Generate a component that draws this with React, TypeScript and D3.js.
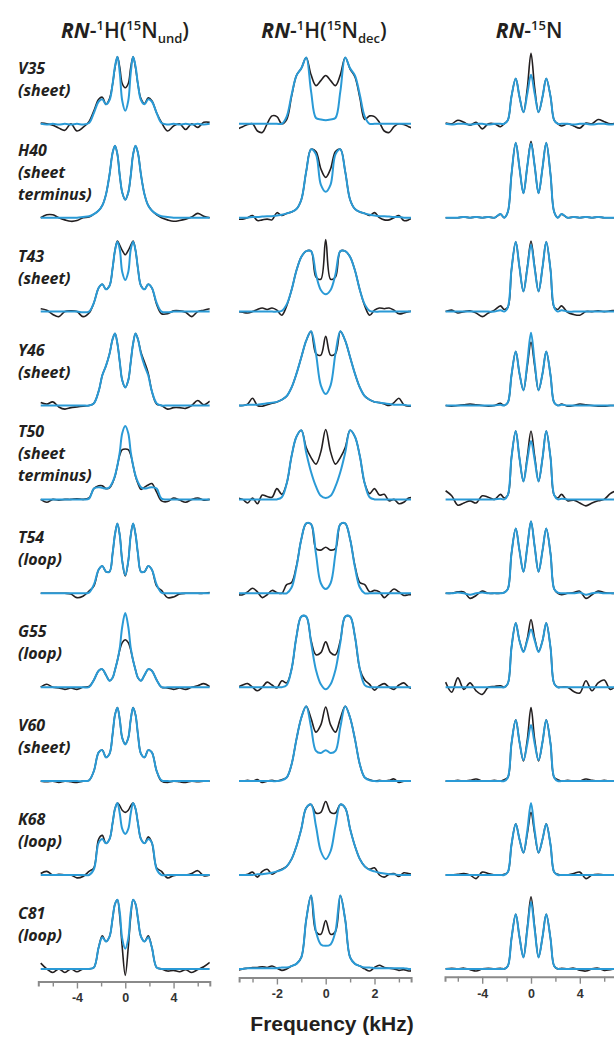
import React, { useEffect, useRef } from 'react'
import * as d3 from 'd3'

// residues and their secondary-structure note (one entry per text line)
const residues = ['V35', 'H40', 'T43', 'Y46', 'T50', 'T54', 'G55', 'V60', 'K68', 'C81']
const regionLines = [
  ['(sheet)'],
  ['(sheet', 'terminus)'],
  ['(sheet)'],
  ['(sheet)'],
  ['(sheet', 'terminus)'],
  ['(loop)'],
  ['(loop)'],
  ['(sheet)'],
  ['(loop)'],
  ['(loop)'],
]

// frequency samples (kHz) for each experiment
const freqUnd = [-7, -6.5, -6, -5.5, -5, -4.5, -4, -3.5, -3, -2.6, -2.2, -1.9, -1.6, -1.3, -1.05, -0.85, -0.65, -0.45, -0.25, 0,
  0.25, 0.45, 0.65, 0.85, 1.05, 1.3, 1.6, 1.9, 2.2, 2.6, 3, 3.5, 4, 4.5, 5, 5.5, 6, 6.5, 7]
const freqDec = [-3.6, -3.4, -3.2, -3.0, -2.8, -2.6, -2.4, -2.2, -2.0, -1.8, -1.6, -1.4, -1.2, -1.0, -0.8, -0.6, -0.4, -0.2, 0,
  0.2, 0.4, 0.6, 0.8, 1.0, 1.2, 1.4, 1.6, 1.8, 2.0, 2.2, 2.4, 2.6, 2.8, 3.0, 3.2, 3.4, 3.6]
const freqN = [-7, -6.5, -6, -5.5, -5, -4.5, -4, -3.5, -3, -2.5, -2.2, -1.9, -1.6, -1.25, -0.95, -0.62, -0.3, 0,
  0.3, 0.62, 0.95, 1.25, 1.6, 1.9, 2.2, 2.5, 3, 3.5, 4, 4.5, 5, 5.5, 6, 6.5, 7]

// RN-1H(15N undecoupled): experiment (black) and simulation (blue)
const undExp = [
  [0.01, 0.0, -0.02, -0.06, -0.09, 0.0, -0.1, -0.05, 0.03, 0.18, 0.34, 0.37, 0.27, 0.35, 0.55, 0.78, 0.93, 0.78, 0.56, 0.5, 0.56, 0.78, 0.93, 0.78, 0.55, 0.35, 0.28, 0.36, 0.32, 0.15, 0.02, -0.1, -0.03, 0.0, -0.08, 0.0, -0.05, 0.02, 0.02],
  [0.0, 0.04, 0.04, 0.0, -0.03, -0.05, -0.04, 0.0, 0.01, 0.05, 0.1, 0.17, 0.32, 0.6, 0.9, 1.0, 0.88, 0.58, 0.35, 0.25, 0.35, 0.58, 0.88, 1.0, 0.9, 0.6, 0.32, 0.17, 0.1, 0.04, 0.0, -0.03, -0.05, -0.04, -0.02, 0.01, 0.06, 0.02, 0.0],
  [0.04, 0.02, -0.04, -0.07, 0.0, 0.01, 0.0, -0.07, -0.02, 0.12, 0.33, 0.38, 0.31, 0.36, 0.6, 0.85, 0.98, 0.92, 0.85, 0.79, 0.85, 0.92, 0.98, 0.85, 0.6, 0.36, 0.31, 0.38, 0.33, 0.1, -0.03, -0.03, 0.01, 0.01, -0.01, -0.07, 0.0, 0.02, 0.04],
  [0.04, 0.02, 0.05, -0.02, -0.05, -0.03, -0.02, -0.01, 0.0, 0.03, 0.2, 0.42, 0.55, 0.72, 0.92, 1.0, 0.86, 0.6, 0.35, 0.25, 0.35, 0.6, 0.86, 1.0, 0.92, 0.74, 0.6, 0.45, 0.2, 0.02, 0.0, -0.05, -0.03, -0.03, -0.04, 0.0, 0.07, 0.01, 0.06],
  [0.0, -0.04, 0.0, -0.01, 0.0, 0.0, 0.01, 0.0, 0.02, 0.15, 0.19, 0.19, 0.15, 0.16, 0.23, 0.32, 0.47, 0.62, 0.69, 0.7, 0.69, 0.62, 0.47, 0.32, 0.22, 0.14, 0.17, 0.2, 0.22, 0.1, -0.02, -0.03, 0.02, -0.01, -0.04, 0.0, 0.02, -0.01, 0.0],
  [0.0, 0.0, 0.0, 0.0, 0.0, -0.01, -0.06, -0.04, 0.03, 0.1, 0.33, 0.38, 0.3, 0.3, 0.55, 0.82, 0.97, 0.8, 0.45, 0.24, 0.45, 0.8, 0.97, 0.82, 0.55, 0.3, 0.3, 0.38, 0.33, 0.1, 0.04, -0.06, -0.05, -0.01, 0.0, 0.0, 0.0, 0.0, 0.01],
  [0.0, 0.04, 0.0, -0.01, -0.03, -0.01, -0.03, 0.0, 0.01, 0.1, 0.23, 0.25, 0.17, 0.09, 0.13, 0.24, 0.37, 0.52, 0.62, 0.66, 0.62, 0.52, 0.37, 0.24, 0.13, 0.09, 0.17, 0.25, 0.23, 0.1, 0.0, -0.01, -0.03, -0.01, -0.03, 0.0, 0.02, 0.05, 0.01],
  [0.0, -0.01, 0.0, -0.02, 0.0, -0.01, -0.02, 0.0, 0.01, 0.14, 0.4, 0.43, 0.33, 0.38, 0.65, 0.92, 1.02, 0.85, 0.6, 0.52, 0.6, 0.85, 1.02, 0.92, 0.65, 0.38, 0.33, 0.43, 0.4, 0.14, 0.0, -0.02, 0.0, -0.01, -0.02, 0.0, -0.01, 0.0, 0.0],
  [0.02, 0.05, 0.0, 0.01, 0.0, 0.0, -0.04, -0.02, 0.05, 0.1, 0.5, 0.55, 0.44, 0.5, 0.72, 0.92, 1.0, 0.96, 0.9, 0.87, 0.9, 0.96, 1.0, 0.92, 0.72, 0.5, 0.44, 0.53, 0.45, 0.1, 0.05, -0.04, -0.01, 0.0, 0.0, 0.02, 0.06, -0.01, 0.0],
  [0.08, 0.0, -0.05, 0.0, -0.05, 0.0, -0.04, 0.0, 0.0, 0.02, 0.3, 0.46, 0.38, 0.45, 0.7, 0.9, 0.96, 0.72, 0.3, -0.09, 0.3, 0.72, 0.96, 0.9, 0.7, 0.45, 0.38, 0.46, 0.3, 0.02, 0.0, -0.03, -0.02, -0.04, -0.01, -0.05, -0.01, 0.03, 0.09],
]
const undSim = [
  [0.0, -0.01, 0.0, -0.01, 0.0, -0.01, 0.0, -0.01, 0.01, 0.15, 0.31, 0.34, 0.27, 0.33, 0.55, 0.8, 0.93, 0.7, 0.32, 0.18, 0.32, 0.7, 0.93, 0.8, 0.55, 0.33, 0.27, 0.34, 0.31, 0.15, 0.01, -0.01, 0.0, -0.01, 0.0, -0.01, 0.0, -0.01, 0.0],
  [0.0, 0.0, 0.0, 0.0, 0.0, 0.0, 0.0, 0.01, 0.02, 0.05, 0.1, 0.17, 0.32, 0.6, 0.9, 1.0, 0.88, 0.58, 0.35, 0.25, 0.35, 0.58, 0.88, 1.0, 0.9, 0.6, 0.32, 0.17, 0.1, 0.05, 0.02, 0.01, 0.0, 0.0, 0.0, 0.0, 0.0, 0.0, 0.0],
  [0.0, 0.0, 0.0, 0.0, 0.0, 0.0, 0.0, -0.01, 0.0, 0.12, 0.33, 0.38, 0.31, 0.36, 0.6, 0.85, 0.97, 0.86, 0.55, 0.44, 0.55, 0.86, 0.97, 0.85, 0.6, 0.36, 0.31, 0.38, 0.33, 0.12, 0.0, -0.01, 0.0, 0.0, 0.0, 0.0, 0.0, 0.0, 0.0],
  [0.0, 0.0, 0.0, 0.0, 0.0, 0.0, 0.0, 0.0, 0.0, 0.03, 0.2, 0.42, 0.55, 0.72, 0.92, 1.0, 0.86, 0.6, 0.35, 0.25, 0.35, 0.6, 0.86, 1.0, 0.92, 0.72, 0.55, 0.42, 0.2, 0.03, 0.0, 0.0, 0.0, 0.0, 0.0, 0.0, 0.0, 0.0, 0.0],
  [0.0, 0.0, 0.0, 0.0, 0.0, 0.0, 0.0, 0.0, 0.01, 0.15, 0.17, 0.16, 0.15, 0.17, 0.24, 0.33, 0.47, 0.66, 0.92, 1.02, 0.92, 0.66, 0.47, 0.33, 0.24, 0.17, 0.15, 0.16, 0.17, 0.15, 0.01, 0.0, 0.0, 0.0, 0.0, 0.0, 0.0, 0.0, 0.0],
  [0.0, 0.0, 0.0, 0.0, 0.0, 0.0, 0.0, 0.0, 0.01, 0.12, 0.33, 0.38, 0.3, 0.3, 0.55, 0.82, 0.97, 0.8, 0.45, 0.25, 0.45, 0.8, 0.97, 0.82, 0.55, 0.3, 0.3, 0.38, 0.33, 0.12, 0.01, 0.0, 0.0, 0.0, 0.0, 0.0, 0.0, 0.0, 0.0],
  [0.0, 0.0, 0.0, 0.0, 0.0, 0.0, 0.0, 0.0, 0.0, 0.1, 0.23, 0.25, 0.17, 0.09, 0.13, 0.24, 0.37, 0.55, 0.84, 1.03, 0.84, 0.55, 0.37, 0.24, 0.13, 0.09, 0.17, 0.25, 0.23, 0.1, 0.0, 0.0, 0.0, 0.0, 0.0, 0.0, 0.0, 0.0, 0.0],
  [0.0, 0.0, 0.0, 0.0, 0.0, 0.0, 0.0, 0.0, 0.01, 0.14, 0.4, 0.43, 0.33, 0.38, 0.65, 0.92, 1.02, 0.85, 0.6, 0.51, 0.6, 0.85, 1.02, 0.92, 0.65, 0.38, 0.33, 0.43, 0.4, 0.14, 0.01, 0.0, 0.0, 0.0, 0.0, 0.0, 0.0, 0.0, 0.0],
  [0.0, 0.0, 0.0, 0.0, 0.0, 0.0, 0.0, 0.0, 0.0, 0.08, 0.45, 0.5, 0.44, 0.5, 0.72, 0.92, 1.0, 0.85, 0.64, 0.57, 0.64, 0.85, 1.0, 0.92, 0.72, 0.5, 0.44, 0.5, 0.45, 0.08, 0.0, 0.0, 0.0, 0.0, 0.0, 0.0, 0.0, 0.0, 0.0],
  [0.0, 0.0, 0.0, 0.0, 0.0, 0.0, 0.0, 0.0, 0.0, 0.02, 0.3, 0.44, 0.38, 0.45, 0.7, 0.9, 0.96, 0.78, 0.42, 0.28, 0.42, 0.78, 0.96, 0.9, 0.7, 0.45, 0.38, 0.44, 0.3, 0.02, 0.0, 0.0, 0.0, 0.0, 0.0, 0.0, 0.0, 0.0, 0.0],
]

// RN-1H(15N decoupled)
const decExp = [
  [-0.07, -0.04, -0.01, 0.0, -0.1, -0.12, 0.0, 0.11, 0.1, 0.0, 0.06, 0.38, 0.67, 0.77, 0.92, 0.68, 0.53, 0.6, 0.67, 0.6, 0.53, 0.68, 0.92, 0.76, 0.65, 0.36, 0.06, 0.11, 0.1, 0.02, -0.1, -0.12, -0.04, 0.0, -0.01, -0.04, -0.07],
  [-0.02, -0.02, 0.0, 0.03, -0.04, -0.03, -0.02, -0.03, 0.07, 0.03, 0.06, 0.08, 0.12, 0.25, 0.64, 0.95, 0.92, 0.68, 0.56, 0.68, 0.92, 0.95, 0.64, 0.25, 0.12, 0.08, 0.06, 0.03, 0.07, 0.0, -0.03, -0.03, 0.0, 0.03, -0.04, -0.03, 0.01],
  [0.0, -0.01, -0.02, 0.0, 0.03, 0.05, 0.03, 0.05, 0.02, -0.05, 0.08, 0.3, 0.57, 0.76, 0.84, 0.84, 0.48, 0.45, 1.0, 0.45, 0.48, 0.84, 0.84, 0.76, 0.57, 0.3, 0.08, -0.05, 0.02, 0.05, 0.04, 0.05, 0.02, -0.03, -0.02, 0.0, 0.01],
  [0.0, 0.0, 0.02, 0.1, 0.0, -0.01, 0.01, 0.03, 0.05, 0.08, 0.13, 0.25, 0.44, 0.67, 0.9, 1.03, 0.72, 0.7, 0.96, 0.7, 0.72, 1.03, 0.9, 0.67, 0.44, 0.25, 0.13, 0.08, 0.05, 0.04, 0.02, 0.0, 0.04, 0.1, 0.01, -0.01, 0.0],
  [0.02, 0.0, -0.05, 0.02, -0.06, 0.06, 0.04, 0.03, 0.15, 0.07, 0.22, 0.6, 0.87, 0.96, 0.72, 0.58, 0.49, 0.66, 0.97, 0.66, 0.49, 0.58, 0.72, 0.96, 0.87, 0.6, 0.22, 0.08, 0.15, 0.06, 0.07, -0.02, 0.0, -0.06, -0.04, 0.02, 0.02],
  [-0.02, -0.02, 0.02, 0.07, 0.02, -0.06, -0.02, 0.04, 0.01, 0.0, 0.12, 0.15, 0.38, 0.75, 0.97, 0.96, 0.62, 0.6, 0.64, 0.6, 0.62, 0.96, 0.97, 0.75, 0.38, 0.15, 0.12, 0.02, 0.04, 0.02, -0.06, 0.0, 0.06, 0.02, -0.03, -0.02, -0.02],
  [0.0, 0.03, 0.05, 0.0, -0.05, 0.0, 0.07, 0.03, -0.01, 0.09, 0.06, 0.25, 0.7, 0.98, 0.98, 0.65, 0.45, 0.48, 0.63, 0.48, 0.45, 0.65, 0.98, 0.98, 0.7, 0.25, 0.1, 0.04, -0.04, 0.02, 0.05, 0.0, -0.03, 0.03, 0.06, 0.0, -0.02],
  [0.0, 0.0, 0.01, 0.0, 0.02, -0.02, 0.0, 0.01, 0.0, 0.02, 0.05, 0.23, 0.58, 0.88, 1.04, 0.87, 0.68, 0.78, 1.03, 0.78, 0.68, 0.87, 1.04, 0.88, 0.58, 0.23, 0.05, 0.02, 0.0, 0.01, 0.0, 0.01, 0.03, -0.02, 0.0, 0.0, 0.0],
  [0.0, 0.0, 0.01, 0.04, -0.03, 0.05, 0.08, 0.01, 0.05, 0.08, 0.12, 0.22, 0.4, 0.64, 0.93, 0.98, 0.86, 0.87, 1.02, 0.87, 0.86, 0.98, 0.93, 0.64, 0.4, 0.22, 0.12, 0.08, 0.1, 0.0, -0.03, 0.01, 0.02, -0.02, 0.03, 0.02, 0.0],
  [-0.02, 0.0, 0.01, 0.02, 0.02, 0.03, 0.02, 0.04, 0.01, -0.02, 0.0, 0.04, 0.07, 0.16, 0.68, 1.02, 0.52, 0.48, 0.67, 0.48, 0.52, 1.02, 0.68, 0.16, 0.07, 0.04, 0.0, -0.03, 0.02, 0.05, 0.02, 0.01, 0.0, -0.02, -0.01, -0.03, -0.02],
]
const decSim = [
  [0.0, 0.0, 0.0, 0.0, 0.0, 0.0, 0.0, 0.0, 0.0, 0.0, 0.1, 0.4, 0.67, 0.77, 0.92, 0.45, 0.08, 0.06, 0.05, 0.06, 0.08, 0.45, 0.92, 0.77, 0.67, 0.4, 0.1, 0.0, 0.0, 0.0, 0.0, 0.0, 0.0, 0.0, 0.0, 0.0, 0.0],
  [0.0, 0.0, 0.0, 0.01, 0.01, 0.015, 0.02, 0.02, 0.03, 0.04, 0.06, 0.08, 0.12, 0.25, 0.64, 0.95, 0.88, 0.46, 0.36, 0.46, 0.88, 0.95, 0.64, 0.25, 0.12, 0.08, 0.06, 0.04, 0.03, 0.02, 0.02, 0.015, 0.01, 0.01, 0.0, 0.0, 0.0],
  [0.0, 0.0, 0.0, 0.0, 0.0, 0.0, 0.0, 0.0, 0.0, 0.01, 0.1, 0.3, 0.57, 0.76, 0.84, 0.84, 0.52, 0.3, 0.24, 0.3, 0.52, 0.84, 0.84, 0.76, 0.57, 0.3, 0.1, 0.01, 0.0, 0.0, 0.0, 0.0, 0.0, 0.0, 0.0, 0.0, 0.0],
  [0.0, 0.0, 0.01, 0.01, 0.01, 0.02, 0.03, 0.04, 0.05, 0.08, 0.13, 0.25, 0.44, 0.67, 0.9, 1.03, 0.72, 0.28, 0.16, 0.28, 0.72, 1.03, 0.9, 0.67, 0.44, 0.25, 0.13, 0.08, 0.05, 0.04, 0.03, 0.02, 0.01, 0.01, 0.01, 0.0, 0.0],
  [0.0, 0.0, 0.0, 0.0, 0.0, 0.0, 0.0, 0.0, 0.0, 0.03, 0.22, 0.6, 0.87, 0.96, 0.65, 0.38, 0.18, 0.05, 0.02, 0.05, 0.18, 0.38, 0.65, 0.96, 0.87, 0.6, 0.22, 0.03, 0.0, 0.0, 0.0, 0.0, 0.0, 0.0, 0.0, 0.0, 0.0],
  [0.0, 0.0, 0.0, 0.0, 0.0, 0.0, 0.0, 0.0, 0.0, 0.0, 0.0, 0.08, 0.36, 0.75, 0.97, 0.96, 0.55, 0.14, 0.06, 0.14, 0.55, 0.96, 0.97, 0.75, 0.36, 0.08, 0.0, 0.0, 0.0, 0.0, 0.0, 0.0, 0.0, 0.0, 0.0, 0.0, 0.0],
  [0.0, 0.0, 0.0, 0.0, 0.0, 0.0, 0.0, 0.0, 0.0, 0.0, 0.03, 0.25, 0.7, 0.98, 0.98, 0.62, 0.24, 0.04, -0.03, 0.04, 0.24, 0.62, 0.98, 0.98, 0.7, 0.25, 0.03, 0.0, 0.0, 0.0, 0.0, 0.0, 0.0, 0.0, 0.0, 0.0, 0.0],
  [0.0, 0.0, 0.0, 0.0, 0.0, 0.0, 0.0, 0.0, 0.0, 0.01, 0.05, 0.23, 0.58, 0.88, 1.04, 0.75, 0.42, 0.39, 0.43, 0.39, 0.42, 0.75, 1.04, 0.88, 0.58, 0.23, 0.05, 0.01, 0.0, 0.0, 0.0, 0.0, 0.0, 0.0, 0.0, 0.0, 0.0],
  [0.0, 0.0, 0.0, 0.0, 0.01, 0.01, 0.02, 0.03, 0.05, 0.07, 0.12, 0.22, 0.4, 0.64, 0.93, 0.98, 0.68, 0.33, 0.22, 0.33, 0.68, 0.98, 0.93, 0.64, 0.4, 0.22, 0.12, 0.07, 0.05, 0.03, 0.02, 0.01, 0.01, 0.0, 0.0, 0.0, 0.0],
  [0.0, 0.0, 0.01, 0.01, 0.01, 0.01, 0.01, 0.01, 0.01, 0.02, 0.02, 0.04, 0.07, 0.16, 0.68, 1.02, 0.52, 0.34, 0.32, 0.34, 0.52, 1.02, 0.68, 0.16, 0.07, 0.04, 0.02, 0.02, 0.01, 0.01, 0.01, 0.01, 0.01, 0.01, 0.01, 0.0, 0.0],
]

// RN-15N
const nExp = [
  [0.01, 0.0, 0.05, 0.02, -0.02, 0.02, -0.07, 0.0, 0.0, -0.04, 0.0, 0.05, 0.38, 0.63, 0.38, 0.16, 0.5, 0.98, 0.5, 0.16, 0.38, 0.63, 0.38, 0.05, 0.0, -0.03, 0.0, -0.03, -0.06, 0.01, 0.0, 0.06, 0.03, 0.0, 0.01],
  [0.0, 0.0, 0.0, 0.01, 0.0, 0.01, 0.0, 0.01, 0.0, 0.05, 0.0, 0.08, 0.6, 1.04, 0.7, 0.34, 0.72, 1.06, 0.72, 0.34, 0.7, 1.04, 0.6, 0.08, 0.0, 0.05, 0.0, 0.01, 0.0, 0.01, 0.0, 0.01, 0.0, 0.0, 0.0],
  [0.0, 0.02, -0.02, 0.0, 0.01, -0.02, -0.07, -0.02, 0.02, 0.08, 0.03, 0.06, 0.58, 0.97, 0.62, 0.28, 0.62, 0.98, 0.62, 0.28, 0.62, 0.97, 0.58, 0.06, 0.03, 0.08, -0.01, -0.04, -0.05, 0.0, 0.0, 0.01, 0.0, 0.01, 0.02],
  [0.0, -0.01, 0.0, 0.01, 0.02, 0.01, 0.0, -0.01, 0.0, 0.03, 0.0, 0.04, 0.42, 0.75, 0.45, 0.21, 0.55, 0.88, 0.55, 0.21, 0.45, 0.75, 0.42, 0.04, 0.0, 0.02, -0.01, 0.0, 0.02, 0.01, 0.0, -0.01, -0.01, 0.0, 0.0],
  [0.12, 0.05, -0.08, -0.05, -0.02, -0.05, 0.05, 0.03, 0.0, 0.07, 0.02, 0.06, 0.58, 0.95, 0.58, 0.25, 0.6, 0.95, 0.6, 0.25, 0.58, 0.95, 0.58, 0.06, 0.02, 0.07, -0.02, -0.01, -0.05, -0.09, -0.05, -0.02, 0.0, 0.08, 0.12],
  [0.0, 0.0, 0.02, 0.02, -0.07, -0.03, 0.03, 0.0, 0.0, 0.0, 0.01, 0.06, 0.55, 0.9, 0.6, 0.3, 0.65, 1.0, 0.65, 0.3, 0.6, 0.9, 0.55, 0.06, 0.0, -0.02, 0.0, 0.01, 0.03, -0.07, -0.02, 0.03, 0.01, 0.0, 0.0],
  [0.07, -0.07, 0.13, -0.03, 0.06, -0.05, -0.1, 0.0, 0.01, 0.02, 0.0, 0.05, 0.55, 0.89, 0.65, 0.5, 0.68, 0.94, 0.68, 0.5, 0.65, 0.89, 0.55, 0.05, 0.0, 0.0, 0.0, -0.06, -0.08, 0.09, -0.05, 0.06, 0.1, -0.03, 0.03],
  [0.0, 0.0, 0.01, 0.0, 0.01, 0.03, 0.0, 0.0, 0.01, 0.0, 0.02, 0.05, 0.52, 0.85, 0.55, 0.28, 0.58, 1.02, 0.58, 0.28, 0.55, 0.85, 0.52, 0.05, 0.02, 0.0, 0.01, 0.0, 0.0, 0.03, 0.01, 0.0, 0.01, 0.0, 0.0],
  [0.0, 0.0, 0.01, 0.02, 0.0, -0.05, 0.04, 0.02, 0.0, 0.0, 0.01, 0.04, 0.42, 0.71, 0.5, 0.31, 0.58, 0.87, 0.58, 0.31, 0.5, 0.71, 0.42, 0.04, 0.01, 0.0, 0.0, 0.02, 0.04, -0.05, 0.0, 0.01, 0.0, 0.0, 0.0],
  [0.0, 0.01, 0.0, 0.01, -0.01, -0.03, 0.0, 0.01, 0.0, 0.01, 0.0, 0.04, 0.42, 0.76, 0.45, 0.16, 0.58, 1.0, 0.58, 0.16, 0.45, 0.76, 0.42, 0.04, 0.0, 0.01, 0.0, 0.01, -0.02, -0.03, 0.0, 0.01, -0.02, -0.01, 0.0],
]
const nSim = [
  [0.0, -0.01, 0.0, 0.0, -0.01, 0.0, 0.0, -0.01, 0.0, 0.0, 0.0, 0.05, 0.38, 0.63, 0.38, 0.16, 0.42, 0.68, 0.42, 0.16, 0.38, 0.63, 0.38, 0.05, 0.0, 0.0, 0.0, -0.01, 0.0, 0.0, -0.01, 0.0, 0.0, -0.01, 0.0],
  [0.0, 0.0, 0.0, 0.01, 0.0, 0.01, 0.0, 0.01, 0.0, 0.05, 0.0, 0.08, 0.6, 1.04, 0.7, 0.34, 0.72, 1.03, 0.72, 0.34, 0.7, 1.04, 0.6, 0.08, 0.0, 0.05, 0.0, 0.01, 0.0, 0.01, 0.0, 0.01, 0.0, 0.0, 0.0],
  [0.0, 0.0, 0.0, 0.0, 0.0, 0.0, 0.0, 0.0, 0.0, 0.02, 0.0, 0.06, 0.58, 0.97, 0.62, 0.28, 0.6, 0.93, 0.6, 0.28, 0.62, 0.97, 0.58, 0.06, 0.0, 0.02, 0.0, 0.0, 0.0, 0.0, 0.0, 0.0, 0.0, 0.0, 0.0],
  [0.0, 0.0, 0.0, 0.0, 0.0, 0.0, 0.0, 0.0, 0.0, 0.01, 0.0, 0.04, 0.42, 0.75, 0.45, 0.21, 0.6, 1.01, 0.6, 0.21, 0.45, 0.75, 0.42, 0.04, 0.0, 0.01, 0.0, 0.0, 0.0, 0.0, 0.0, 0.0, 0.0, 0.0, 0.0],
  [0.0, 0.0, 0.0, 0.0, 0.0, 0.0, 0.0, 0.0, 0.0, 0.01, 0.0, 0.06, 0.58, 0.95, 0.58, 0.25, 0.55, 0.81, 0.55, 0.25, 0.58, 0.95, 0.58, 0.06, 0.0, 0.01, 0.0, 0.0, 0.0, 0.0, 0.0, 0.0, 0.0, 0.0, 0.0],
  [0.0, 0.0, 0.01, 0.0, -0.02, 0.0, 0.01, 0.0, 0.0, 0.0, 0.01, 0.06, 0.55, 0.9, 0.6, 0.3, 0.65, 1.0, 0.65, 0.3, 0.6, 0.9, 0.55, 0.06, 0.01, 0.0, 0.0, 0.0, 0.01, -0.02, 0.0, 0.01, 0.0, 0.0, 0.0],
  [0.0, 0.0, 0.0, 0.0, 0.0, 0.0, 0.0, 0.0, 0.0, 0.0, 0.0, 0.05, 0.55, 0.89, 0.65, 0.49, 0.65, 0.8, 0.65, 0.49, 0.65, 0.89, 0.55, 0.05, 0.0, 0.0, 0.0, 0.0, 0.0, 0.0, 0.0, 0.0, 0.0, 0.0, 0.0],
  [0.0, 0.0, 0.0, 0.0, 0.0, 0.0, 0.0, 0.0, 0.0, 0.0, 0.0, 0.05, 0.52, 0.85, 0.55, 0.29, 0.52, 0.78, 0.52, 0.29, 0.55, 0.85, 0.52, 0.05, 0.0, 0.0, 0.0, 0.0, 0.0, 0.0, 0.0, 0.0, 0.0, 0.0, 0.0],
  [0.0, 0.0, 0.0, 0.0, 0.0, 0.0, 0.0, 0.0, 0.0, 0.0, 0.0, 0.04, 0.42, 0.71, 0.5, 0.31, 0.62, 1.0, 0.62, 0.31, 0.5, 0.71, 0.42, 0.04, 0.0, 0.0, 0.0, 0.0, 0.0, 0.0, 0.0, 0.0, 0.0, 0.0, 0.0],
  [0.0, 0.0, 0.0, 0.0, 0.0, 0.0, 0.0, 0.0, 0.0, 0.0, 0.0, 0.04, 0.42, 0.76, 0.45, 0.16, 0.55, 0.93, 0.55, 0.16, 0.45, 0.76, 0.42, 0.04, 0.0, 0.0, 0.0, 0.0, 0.0, 0.0, 0.0, 0.0, 0.0, 0.0, 0.0],
]

// axis ticks (kHz)
const ticksWide = [-6, -4, -2, 0, 2, 4, 6]
const labelsWide = [-4, 0, 4]
const ticksNarrow = [-3, -2, -1, 0, 1, 2, 3]
const labelsNarrow = [-2, 0, 2]

const W = 614
const H = 1038
const BLACK = '#231f20'
const BLUE = '#2a9ad6'
const AXIS = '#8a8a8a'
const LABEL_FONT = '"Open Sans", "Noto Sans", sans-serif'
const AXIS_FONT = '"Liberation Sans", Arial, sans-serif'

const columns = [
  { key: 'und', freq: freqUnd, exp: undExp, sim: undSim, domain: [-7.2, 7.0], range: [38.3, 209.8], axisY: 981.5, ticks: ticksWide, labels: labelsWide },
  { key: 'dec', freq: freqDec, exp: decExp, sim: decSim, domain: [-3.55, 3.5], range: [239.1, 411.1], axisY: 977.5, ticks: ticksNarrow, labels: labelsNarrow },
  { key: 'n', freq: freqN, exp: nExp, sim: nSim, domain: [-7.05, 7.0], range: [445, 616.4], axisY: 976.7, ticks: ticksWide, labels: labelsWide },
]

const rowBase = d3.scaleLinear().domain([0, 9]).range([123.8, 968.9])
const AMP = 72

function Axis({ col }) {
  const ref = useRef(null)
  useEffect(() => {
    const x = d3.scaleLinear().domain(col.domain).range(col.range)
    const g = d3.select(ref.current)
    g.selectAll('*').remove()
    g.call(
      d3.axisBottom(x)
        .tickValues(col.ticks)
        .tickSizeOuter(0)
        .tickSize(5)
        .tickPadding(6)
        .tickFormat(d => (col.labels.includes(d) ? String(d) : ''))
    )
    g.select('.domain').attr('stroke', AXIS).attr('stroke-width', 2)
    g.selectAll('.tick line')
      .attr('stroke', AXIS)
      .attr('stroke-width', 1.4)
      .attr('y2', d => (col.labels.includes(d) ? 7 : 5))
    g.selectAll('.tick text')
      .attr('fill', '#333')
      .attr('y', 12)
      .style('font-family', AXIS_FONT)
      .style('font-weight', 'bold')
      .style('font-size', '12.5px')
  }, [col])
  return <g ref={ref} transform={`translate(0,${col.axisY})`} />
}

function Title({ cx, sub }) {
  return (
    <text x={cx} y={38} textAnchor="middle" fontFamily={LABEL_FONT} fontWeight={600} fontSize={21} fill={BLACK}>
      <tspan fontStyle="italic" fontWeight={700}>RN</tspan>
      <tspan>-</tspan>
      {sub ? (
        <>
          <tspan fontSize={13} dy={-8}>1</tspan>
          <tspan dy={8}>H(</tspan>
          <tspan fontSize={13} dy={-8}>15</tspan>
          <tspan dy={8}>N</tspan>
          <tspan fontSize={13} dy={5}>{sub}</tspan>
          <tspan dy={-5}>)</tspan>
        </>
      ) : (
        <>
          <tspan fontSize={13} dy={-8}>15</tspan>
          <tspan dy={8}>N</tspan>
        </>
      )}
    </text>
  )
}

export default function App() {
  return (
    <svg width={W} height={H} style={{ position: 'absolute', left: 0, top: 0, background: '#fff' }}>
      <defs>
        {columns.map(col => (
          <clipPath id={`clip-${col.key}`} key={col.key}>
            <rect x={col.range[0]} y={0} width={col.range[1] - col.range[0]} height={H} />
          </clipPath>
        ))}
      </defs>

      <Title cx={125} sub="und" />
      <Title cx={324} sub="dec" />
      <Title cx={529} sub={null} />

      {residues.map((res, r) => {
        const lines = [res, ...regionLines[r]]
        const first = rowBase(r) - (lines.length > 2 ? 62 : 50)
        return (
          <text key={res} x={18} y={first} fontFamily={LABEL_FONT} fontStyle="italic" fontWeight={700} fontSize={16} fill={BLACK}>
            {lines.map((t, i) => (
              <tspan key={i} x={18} dy={i === 0 ? 0 : 22}>{t}</tspan>
            ))}
          </text>
        )
      })}

      {columns.map(col => {
        const x = d3.scaleLinear().domain(col.domain).range(col.range)
        return (
          <g key={col.key} clipPath={`url(#clip-${col.key})`}>
            {residues.map((res, r) => {
              const base = rowBase(r)
              const y = d3.scaleLinear().domain([0, 1]).range([base, base - AMP])
              const line = d3.line<number>()
                .x((_, i) => x(col.freq[i]))
                .y(d => y(d))
                .curve(d3.curveCatmullRom.alpha(0.5))
              return (
                <g key={res}>
                  <path d={line(col.exp[r]) || ''} fill="none" stroke={BLACK} strokeWidth={1.6} strokeLinejoin="round" />
                  <path d={line(col.sim[r]) || ''} fill="none" stroke={BLUE} strokeWidth={2} strokeLinejoin="round" />
                </g>
              )
            })}
          </g>
        )
      })}

      {columns.map(col => <Axis key={col.key} col={col} />)}

      <text x={332} y={1031} textAnchor="middle" fontFamily={AXIS_FONT} fontWeight="bold" fontSize={21} fill={BLACK}>
        Frequency (kHz)
      </text>
    </svg>
  )
}
